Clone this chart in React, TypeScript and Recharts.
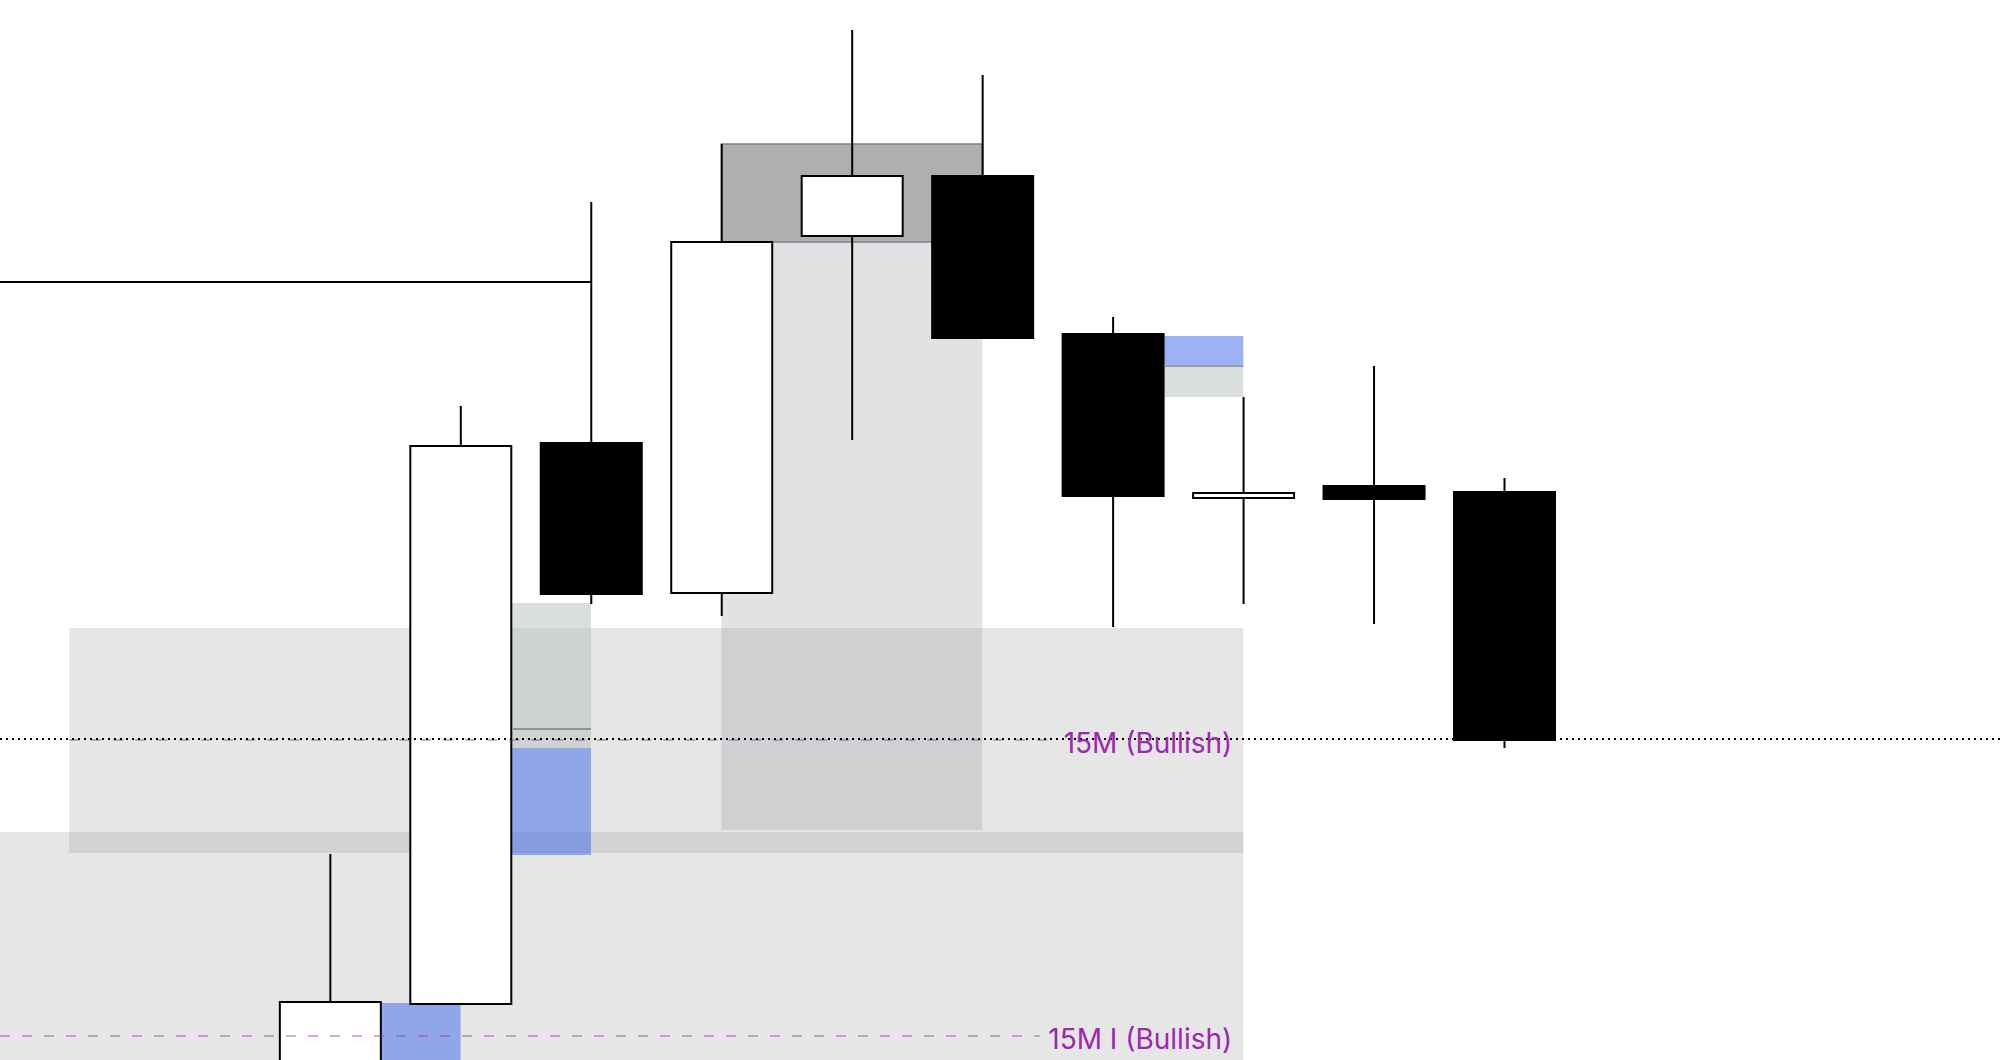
import {
  ComposedChart,
  Bar,
  XAxis,
  YAxis,
  ReferenceArea,
  ReferenceLine,
  ReferenceDot,
} from 'recharts';

// candle slots (index 0 = first visible candle body)
const slots = [0, 1, 2, 3, 4, 5, 6, 7, 8, 9];
const opens = [5238.5, 5242.8, 5270.85, 5263.35, 5281.2, 5284.2, 5276.3, 5268.1, 5268.7, 5268.4];
const highs = [5250.3, 5272.7, 5282.9, 5285.8, 5291.5, 5289.25, 5277.15, 5273.15, 5274.7, 5269.1];
const lows = [5238.0, 5242.8, 5262.8, 5262.2, 5271.0, 5276.1, 5261.65, 5262.8, 5261.8, 5255.6];
const closes = [5242.9, 5270.7, 5263.3, 5280.9, 5284.2, 5276.1, 5268.2, 5268.35, 5268.05, 5256.0];

const X_DOMAIN = [-2.53, 12.8];
const Y_DOMAIN = [5240, 5293];

// 15M zones: [top, bottom]
const zoneUpper = [5261.6, 5250.35];
const zoneLower = [5251.4, 5240];
// order block on candle 3 + its projection
const orderBlock = [5285.8, 5280.9];
const orderShadow = [5280.9, 5251.5];
// fair value gaps: [top, mid, filledFrom, bottom]
const fvgA = [5262.85, 5256.55, 5255.6, 5250.25];
const fvgB = [5276.2, 5274.7, 5274.7, 5273.15];
const fvgC = [5242.85, 5240];

const prevHigh = 5278.9;
const closeLevel = 5256.05;
const bullLevel = 5256.0;
const bullLevelI = 5241.2;
const labelText = ['15M (Bullish)', '15M I (Bullish)'];

const HALF_BODY = 0.395;

const data = slots.map((i, k) => ({
  i,
  open: opens[k],
  high: highs[k],
  low: lows[k],
  close: closes[k],
  range: [lows[k], highs[k]],
}));

function Candle(props: any) {
  const { x, y, width, height, payload } = props;
  const { open, close, high, low } = payload;
  const up = close >= open;
  const ratio = height / (high - low);
  const bodyTop = y + (high - Math.max(open, close)) * ratio;
  const bodyH = Math.max(Math.abs(open - close) * ratio, 1);
  const cx = x + width / 2;
  return (
    <g>
      <line x1={cx} x2={cx} y1={y} y2={y + height} stroke="#000" strokeWidth={2} />
      <rect
        x={x}
        y={bodyTop}
        width={width}
        height={bodyH}
        fill={up ? '#fff' : '#000'}
        stroke="#000"
        strokeWidth={2}
      />
    </g>
  );
}

const levelLabel = (text: string) => (props: any) => {
  const { viewBox } = props;
  return (
    <text
      x={viewBox.x}
      y={viewBox.y + 3}
      textAnchor="end"
      dominantBaseline="central"
      fill="#9c27b0"
      fontSize={28}
      fontFamily="Inter, 'Noto Sans', sans-serif"
    >
      {text}
    </text>
  );
};

export default function App() {
  return (
    <div
      style={{
        position: 'absolute',
        top: 0,
        left: 0,
        width: 2000,
        height: 1060,
        overflow: 'hidden',
        background: '#fff',
      }}
    >
      <ComposedChart width={2000} height={1060} data={data} margin={{ top: 0, right: 0, bottom: 0, left: 0 }}>
        <XAxis dataKey="i" type="number" domain={X_DOMAIN} allowDataOverflow hide />
        <YAxis type="number" domain={Y_DOMAIN} allowDataOverflow hide />

        <ReferenceArea x1={-2} x2={7} y1={zoneUpper[0]} y2={zoneUpper[1]} fill="#808080" fillOpacity={0.2} stroke="none" />
        <ReferenceArea x1={X_DOMAIN[0]} x2={7} y1={zoneLower[0]} y2={zoneLower[1]} fill="#808080" fillOpacity={0.2} stroke="none" />

        <ReferenceArea x1={3} x2={5} y1={orderShadow[0]} y2={orderShadow[1]} fill="rgb(148,151,159)" fillOpacity={0.28} stroke="none" />
        <ReferenceArea x1={3} x2={5} y1={orderBlock[0]} y2={orderBlock[1]} fill="#afafaf" fillOpacity={1} stroke="#7f828b" strokeWidth={1.5} />

        <ReferenceArea x1={1 + HALF_BODY} x2={2} y1={fvgA[0]} y2={fvgA[2]} fill="rgb(184,194,186)" fillOpacity={0.52} stroke="none" />
        <ReferenceArea x1={1 + HALF_BODY} x2={2} y1={fvgA[2]} y2={fvgA[3]} fill="rgb(60,100,235)" fillOpacity={0.5} stroke="none" />
        <ReferenceLine segment={[{ x: 1 + HALF_BODY, y: fvgA[1] }, { x: 2, y: fvgA[1] }]} stroke="#8f9491" strokeWidth={2} />

        <ReferenceArea x1={6 + HALF_BODY} x2={7} y1={fvgB[0]} y2={fvgB[2]} fill="rgb(60,100,235)" fillOpacity={0.5} stroke="none" />
        <ReferenceArea x1={6 + HALF_BODY} x2={7} y1={fvgB[2]} y2={fvgB[3]} fill="rgb(184,194,186)" fillOpacity={0.52} stroke="none" />
        <ReferenceLine segment={[{ x: 6 + HALF_BODY, y: fvgB[1] }, { x: 7, y: fvgB[1] }]} stroke="#979ba6" strokeWidth={2} />

        <ReferenceArea x1={HALF_BODY} x2={1} y1={fvgC[0]} y2={fvgC[1]} fill="rgb(60,100,235)" fillOpacity={0.5} stroke="none" />

        <ReferenceLine
          segment={[{ x: -2, y: bullLevel }, { x: 5.53, y: bullLevel }]}
          stroke="rgb(156,39,176)"
          strokeOpacity={0.4}
          strokeWidth={2}
          strokeDasharray="10 12"
        />
        <ReferenceLine
          segment={[{ x: X_DOMAIN[0], y: bullLevelI }, { x: 5.44, y: bullLevelI }]}
          stroke="rgb(156,39,176)"
          strokeOpacity={0.4}
          strokeWidth={2}
          strokeDasharray="10 12"
        />

        <Bar dataKey="range" barSize={101} shape={<Candle />} isAnimationActive={false} />

        <ReferenceLine
          segment={[{ x: X_DOMAIN[0], y: prevHigh }, { x: 2, y: prevHigh }]}
          stroke="#000"
          strokeWidth={2}
        />
        <ReferenceLine y={closeLevel} stroke="#000" strokeWidth={2} strokeDasharray="2 4" />

        <ReferenceDot x={6.915} y={bullLevel} r={0} fill="none" stroke="none" label={levelLabel(labelText[0])} />
        <ReferenceDot x={6.915} y={bullLevelI} r={0} fill="none" stroke="none" label={levelLabel(labelText[1])} />
      </ComposedChart>
    </div>
  );
}
